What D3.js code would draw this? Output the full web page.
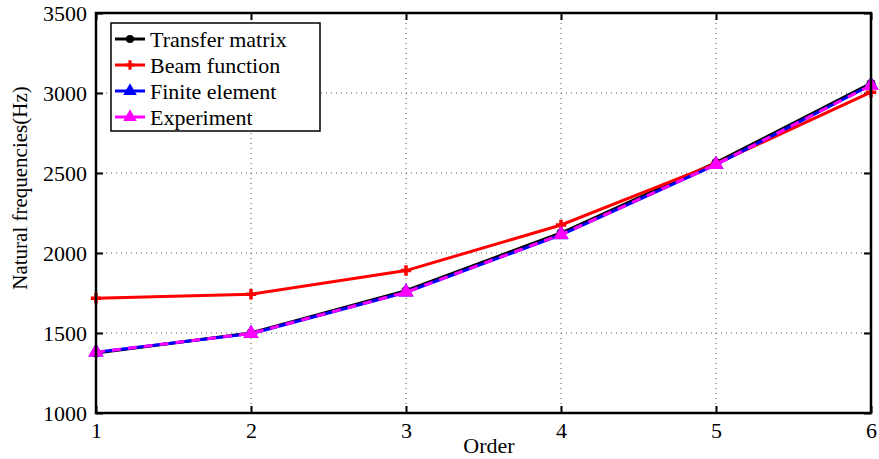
<!DOCTYPE html>
<html>
<head>
<meta charset="utf-8">
<script src="https://cdn.jsdelivr.net/npm/d3@7"></script>
<style>
body { margin: 0; background: #fff; }
svg text { font-family: "Liberation Serif", "Times New Roman", serif; }
</style>
</head>
<body>
<div id="chart"></div>
<script>
// Data
const orders = [1, 2, 3, 4, 5, 6];
const transferMatrix = [1375, 1500, 1765, 2125, 2565, 3060];
const beamFunction = [1717, 1742, 1890, 2175, 2558, 3005];
const finiteElement = [1380, 1496, 1755, 2113, 2552, 3050];
const experiment = [1380, 1497, 1755, 2115, 2553, 3048];
const yTicks = [1000, 1500, 2000, 2500, 3000, 3500];

const series = [
    { name: "Transfer matrix", values: transferMatrix, color: "#000000", marker: "circle", dash: null },
    { name: "Beam function", values: beamFunction, color: "#ff0000", marker: "plus", dash: null },
    { name: "Finite element", values: finiteElement, color: "#0000ff", marker: "triangle", dash: null },
    { name: "Experiment", values: experiment, color: "#ff00ff", marker: "triangle", dash: "9,7" }
];

const W = 879, H = 459;
const margin = { top: 13, right: 8, bottom: 46, left: 96 };
const width = W - margin.left - margin.right;
const height = H - margin.top - margin.bottom;

const svg = d3.select("#chart").append("svg")
    .attr("width", W)
    .attr("height", H);

const g = svg.append("g")
    .attr("transform", "translate(" + margin.left + "," + margin.top + ")");

const x = d3.scaleLinear().domain([1, 6]).range([0, width]);
const y = d3.scaleLinear().domain([1000, 3500]).range([height, 0]);

// grid
g.append("g").selectAll("line")
    .data(orders.slice(1, -1))
    .enter().append("line")
    .attr("x1", d => x(d)).attr("x2", d => x(d))
    .attr("y1", 0).attr("y2", height)
    .attr("stroke", "#555").attr("stroke-width", 1)
    .attr("stroke-dasharray", "1,4");

g.append("g").selectAll("line")
    .data(yTicks.slice(1, -1))
    .enter().append("line")
    .attr("x1", 0).attr("x2", width)
    .attr("y1", d => y(d)).attr("y2", d => y(d))
    .attr("stroke", "#555").attr("stroke-width", 1)
    .attr("stroke-dasharray", "1,4");

// axes with inward ticks
const xAxis = g.append("g")
    .attr("transform", "translate(0," + height + ")")
    .call(d3.axisBottom(x).tickValues(orders).tickFormat(d3.format("d")).tickSizeInner(-7).tickSizeOuter(0).tickPadding(9));
const yAxis = g.append("g")
    .call(d3.axisLeft(y).tickValues(yTicks).tickFormat(d3.format("d")).tickSizeInner(-7).tickSizeOuter(0).tickPadding(9));
const xTop = g.append("g")
    .call(d3.axisTop(x).tickValues(orders).tickFormat("").tickSizeInner(-7).tickSizeOuter(0));
const yRight = g.append("g")
    .attr("transform", "translate(" + width + ",0)")
    .call(d3.axisRight(y).tickValues(yTicks).tickFormat("").tickSizeInner(-7).tickSizeOuter(0));

[xAxis, yAxis, xTop, yRight].forEach(a => {
    a.select(".domain").remove();
    a.selectAll(".tick line").attr("stroke", "#000").attr("stroke-width", 2);
    a.selectAll("text").attr("fill", "#000").style("font-size", "22px");
});

// lines
const line = d3.line().x((d, i) => x(orders[i])).y(d => y(d));

function drawMarker(sel, s, cx, cy, size) {
    if (s.marker === "circle") {
        sel.append("circle").attr("cx", cx).attr("cy", cy).attr("r", size)
            .attr("fill", s.color);
    } else if (s.marker === "plus") {
        sel.append("path")
            .attr("d", d3.symbol().type(d3.symbolCross).size(size * size * 3)())
            .attr("transform", "translate(" + cx + "," + cy + ")")
            .attr("fill", s.color);
    } else {
        sel.append("path")
            .attr("d", d3.symbol().type(d3.symbolTriangle).size(size * size * 5)())
            .attr("transform", "translate(" + cx + "," + cy + ")")
            .attr("fill", s.color);
    }
}

series.forEach(s => {
    g.append("path")
        .datum(s.values)
        .attr("fill", "none")
        .attr("stroke", s.color)
        .attr("stroke-width", 3)
        .attr("stroke-dasharray", s.dash)
        .attr("d", line);
    const mg = g.append("g");
    s.values.forEach((v, i) => drawMarker(mg, s, x(orders[i]), y(v), 4.5));
});

// frame
g.append("rect")
    .attr("x", 0).attr("y", 0)
    .attr("width", width).attr("height", height)
    .attr("fill", "none").attr("stroke", "#000").attr("stroke-width", 2.5);

// axis labels
svg.append("text")
    .attr("x", 489)
    .attr("y", 453)
    .attr("text-anchor", "middle")
    .style("font-size", "22px")
    .text("Order");

svg.append("text")
    .attr("transform", "translate(27,188) rotate(-90)")
    .attr("text-anchor", "middle")
    .style("font-size", "21px")
    .text("Natural frequencies(Hz)");

// legend
const legend = svg.append("g").attr("transform", "translate(111,23)");
legend.append("rect")
    .attr("width", 209).attr("height", 108)
    .attr("fill", "#fff").attr("stroke", "#000").attr("stroke-width", 1.5);

series.forEach((s, i) => {
    const row = legend.append("g").attr("transform", "translate(0," + (16 + i * 26) + ")");
    row.append("line")
        .attr("x1", 4).attr("x2", 34)
        .attr("stroke", s.color).attr("stroke-width", 3);
    drawMarker(row, s, 19, 0, 4);
    row.append("text")
        .attr("x", 39).attr("y", 0).attr("dy", "0.35em")
        .style("font-size", "22px")
        .text(s.name);
});
</script>
</body>
</html>
